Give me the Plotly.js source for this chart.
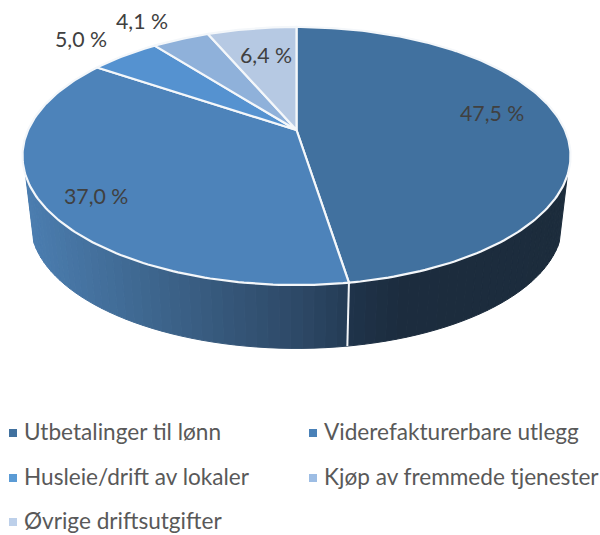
<!DOCTYPE html>
<html>
<head>
<meta charset="utf-8">
<script src="https://cdn.plot.ly/plotly-3.0.1.min.js"></script>
<style>html,body{margin:0;padding:0;background:#fff}#chart{width:600px;height:535px}</style>
</head>
<body>
<div id="chart"></div>
<script>
// Data
const categories = ["Utbetalinger til lønn","Viderefakturerbare utlegg","Husleie/drift av lokaler","Kjøp av fremmede tjenester","Øvrige driftsutgifter"];
const values = [47.5,37.0,5.0,4.1,6.4];
const topColors = ["#41719f","#4d83ba","#5592d0","#8fb1da","#b6c9e3"];
const keyColors = ["#41719f","#4a81b8","#5b9bd5","#9dbde4","#bdd0ea"];
const labelX = [492,96,81,142,266];
const labelY = [113,196,39,21,55];
const legendX = [13,313,13,313,13];
const legendY = [433,433,478,478,522];

// Projection of the tilted disc
const apexX = 296.5, apexY = 130, scaleX = 268.4, scaleY = 123.8, persp = 0.2016;
const baseDrop = 68, baseScale = 0.97;
function rim(deg, base){
  const t = deg*Math.PI/180, u = Math.sin(t), v = Math.cos(t), w = 1 + persp*v;
  const s = base ? baseScale : 1;
  return [apexX + s*scaleX*u/w, apexY + (base?baseDrop:0) - s*scaleY*v/w];
}
const total = values.reduce((a,b)=>a+b,0);
const edges = [0];
values.forEach(v=>edges.push(edges[edges.length-1]+v/total*360));

// Wall shading, by horizontal position
const shadeA = [[20,[76,127,178]],[150,[62,102,142]],[300,[45,72,102]],[350,[36,59,84]]];
const shadeB = [[345,[31,52,75]],[400,[28,44,62]],[570,[28,44,60]]];
function shade(stops,x){
  if(x<=stops[0][0]) return stops[0][1];
  for(let i=1;i<stops.length;i++){
    if(x<=stops[i][0]){
      const f=(x-stops[i-1][0])/(stops[i][0]-stops[i-1][0]);
      return stops[i-1][1].map((c,k)=>Math.round(c+f*(stops[i][1][k]-c)));
    }
  }
  return stops[stops.length-1][1];
}
const traces = [];
function wall(from,to,stops){
  const step = 2;
  for(let d=from;d<to;d+=step){
    const e=Math.min(d+step,to);
    const a=rim(d,false),b=rim(e,false),c=rim(e,true),f=rim(d,true);
    const col='rgb('+shade(stops,(a[0]+b[0]+c[0]+f[0])/4).join(',')+')';
    traces.push({type:'scatter',mode:'lines',x:[a[0],b[0],c[0],f[0],a[0]],y:[a[1],b[1],c[1],f[1],a[1]],
      fill:'toself',fillcolor:col,line:{color:col,width:1},hoverinfo:'skip',showlegend:false});
  }
}
wall(110,edges[1],shadeB);
wall(edges[1],250,shadeA);

// Divider on the wall
const d0=rim(edges[1],false), d1=rim(edges[1],true);
traces.push({type:'scatter',mode:'lines',x:[d0[0],d1[0]],y:[d0[1],d1[1]],line:{color:'#f2f5f8',width:2},hoverinfo:'skip',showlegend:false});

// Top slices
values.forEach((v,i)=>{
  const xs=[apexX], ys=[apexY];
  for(let d=edges[i];d<edges[i+1];d+=1){const p=rim(d,false);xs.push(p[0]);ys.push(p[1]);}
  const p=rim(edges[i+1],false);xs.push(p[0],apexX);ys.push(p[1],apexY);
  traces.push({type:'scatter',mode:'lines',name:categories[i],x:xs,y:ys,fill:'toself',fillcolor:topColors[i],
    line:{color:'#f4f7fa',width:2.2},hoverinfo:'name',showlegend:false});
});

// Legend keys
categories.forEach((c,i)=>{
  traces.push({type:'scatter',mode:'markers',name:c,x:[legendX[i]],y:[legendY[i]],
    marker:{symbol:'square',size:8,color:keyColors[i]},hoverinfo:'name',showlegend:false});
});

const annotations=[];
values.forEach((v,i)=>{
  annotations.push({x:labelX[i],y:labelY[i],xref:'x',yref:'y',showarrow:false,xanchor:'center',yanchor:'middle',
    text:v.toFixed(1).replace('.',',')+' %',font:{family:'Lato, "Open Sans", sans-serif',size:21.3,color:'#404040'}});
});
categories.forEach((c,i)=>{
  annotations.push({x:legendX[i]+8.5,y:legendY[i]-1.5,xref:'x',yref:'y',showarrow:false,xanchor:'left',yanchor:'middle',
    text:c,font:{family:'Lato, "Open Sans", sans-serif',size:22.6,color:'#595959'}});
});

Plotly.newPlot('chart',traces,{
  width:600,height:535,margin:{l:0,r:0,t:0,b:0},paper_bgcolor:'#fff',plot_bgcolor:'#fff',showlegend:false,
  xaxis:{range:[0,600],visible:false,fixedrange:true},
  yaxis:{range:[535,0],visible:false,fixedrange:true},
  annotations:annotations
},{displayModeBar:false,staticPlot:false});
</script>
</body>
</html>
